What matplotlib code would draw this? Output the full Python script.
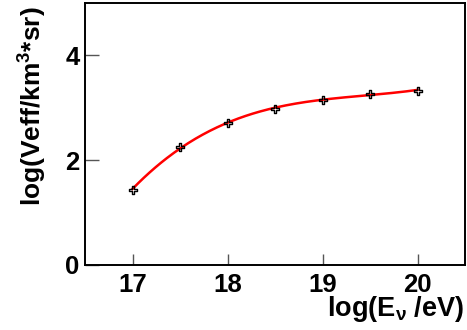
import numpy as np
import matplotlib
matplotlib.use("Agg")
import matplotlib.pyplot as plt
from matplotlib.path import Path

plt.rcParams['font.family'] = ['Liberation Sans', 'DejaVu Sans']
plt.rcParams['font.weight'] = 'bold'
plt.rcParams['mathtext.fontset'] = 'custom'
plt.rcParams['mathtext.rm'] = 'Liberation Sans:bold'
plt.rcParams['mathtext.it'] = 'Liberation Sans:bold'
plt.rcParams['mathtext.bf'] = 'Liberation Sans:bold'
plt.rcParams['mathtext.default'] = 'rm'

log_energy = [17.0, 17.5, 18.0, 18.5, 19.0, 19.5, 20.0]
log_veff = [1.44, 2.25, 2.71, 2.98, 3.15, 3.27, 3.33]
x_ticks = [17, 18, 19, 20]
y_ticks = [0, 2, 4]

fig = plt.figure(figsize=(4.67, 3.30), dpi=100)
ax = fig.add_axes([85/467, 1 - 265/330, 380/467, 262/330])

# smooth fit curve (cubic polynomial fit to the points)
coef = np.polyfit(log_energy, log_veff, 3)
xs = np.linspace(min(log_energy), max(log_energy), 200)
ax.plot(xs, np.polyval(coef, xs), color='red', lw=1.8, zorder=2)

# open-cross marker
a, b = 0.35, 1.0
verts = [(-a, b), (a, b), (a, a), (b, a), (b, -a), (a, -a), (a, -b), (-a, -b),
         (-a, -a), (-b, -a), (-b, a), (-a, a), (-a, b)]
cross = Path(verts, closed=True)
ax.plot(log_energy, log_veff, linestyle='none', marker=cross, markersize=6,
        markerfacecolor='none', markeredgecolor='black', markeredgewidth=1.0, zorder=3)

ax.set_xlim(16.5, 20.5)
ax.set_ylim(0, 5)
ax.set_xticks(x_ticks)
ax.set_yticks(y_ticks)
ax.tick_params(axis='y', direction='in', length=10, width=1, labelsize=18.5, pad=4, color='#555555')
ax.tick_params(axis='x', direction='in', length=8, width=1, labelsize=18.5, pad=6, color='#555555')
for lab in ax.get_xticklabels() + ax.get_yticklabels():
    lab.set_fontweight('bold')
for s in ax.spines.values():
    s.set_linewidth(1.4)

fig.text(464/467, 1 - 324/330, r'log(E$_{\nu}$ /eV)', ha='right', va='bottom', fontsize=19.5, fontweight='bold')
fig.text(17/467, 1 - 6/330, r'log(Veff/km$^{3}$*sr)', rotation=90, ha='left', va='top', fontsize=19, fontweight='bold')

fig.savefig('out.png', dpi=100)
